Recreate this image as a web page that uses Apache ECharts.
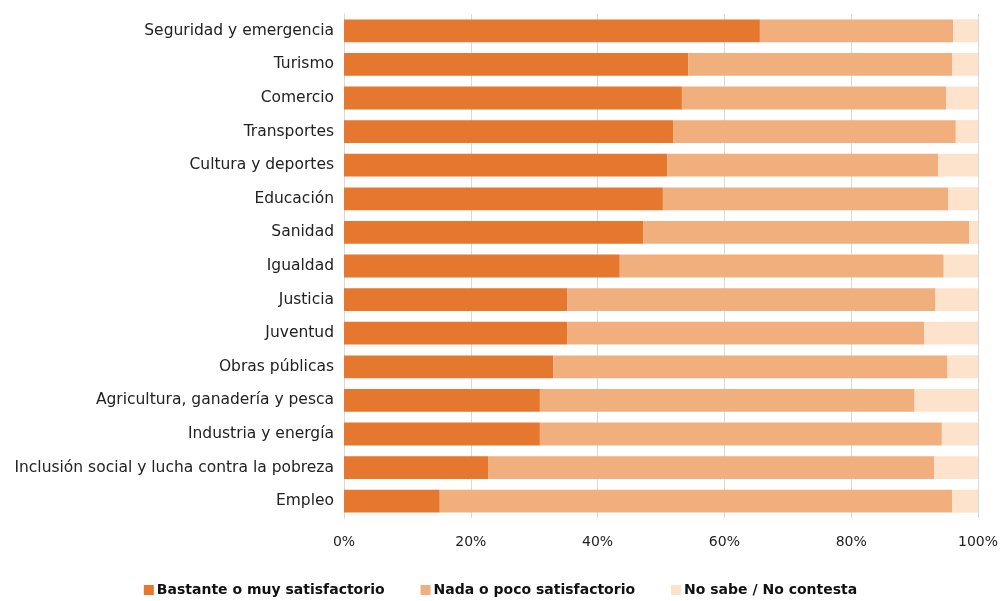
<!DOCTYPE html>
<html><head><meta charset="utf-8">
<script src="https://cdn.jsdelivr.net/npm/echarts@6/dist/echarts.min.js"></script>
<style>html,body{margin:0;padding:0;background:#fff}#c{width:1001px;height:601px}</style>
</head><body><div id="c"></div>
<script>
const categories = ["Seguridad y emergencia","Turismo","Comercio","Transportes","Cultura y deportes","Educación","Sanidad","Igualdad","Justicia","Juventud","Obras públicas","Agricultura, ganadería y pesca","Industria y energía","Inclusión social y lucha contra la pobreza","Empleo"];
const bastante = [65.6,54.3,53.3,51.9,51.0,50.3,47.2,43.5,35.2,35.2,33.0,30.9,30.9,22.8,15.1];
const nada = [30.5,41.6,41.7,44.6,42.7,45.0,51.4,51.1,58.1,56.3,62.2,59.1,63.4,70.3,80.8];
const nsnc = [3.9,4.1,5.0,3.5,6.3,4.7,1.4,5.4,6.7,8.5,4.8,10.0,5.7,6.9,4.1];
const seriesNames = ["Bastante o muy satisfactorio","Nada o poco satisfactorio","No sabe / No contesta"];
const xTicks = [0,20,40,60,80,100];

const font = "DejaVu Sans";
const colors = ["#E5772F","#F0AF7C","#FDE3CC"];
const chart = echarts.init(document.getElementById('c'));
const mk = (name, data, i) => ({
  name, type: 'bar', stack: 'a', data, barWidth: '68%',
  itemStyle: {color: colors[i]}, animation: false
});
chart.setOption({
  animation: false,
  textStyle: {fontFamily: font},
  grid: {left: 344, right: 22, top: 14, bottom: 83},
  legend: {
    bottom: -1, left: 'center', itemWidth: 10, itemHeight: 10, itemGap: 36,
    icon: 'rect',
    textStyle: {fontFamily: font, fontSize: 14, fontWeight: 'bold', color: '#111', padding: [0,0,0,-2]},
    data: seriesNames
  },
  xAxis: {
    type: 'value', min: xTicks[0], max: xTicks[xTicks.length-1], interval: 20,
    axisLine: {show: false}, axisTick: {show: false},
    splitLine: {lineStyle: {color: '#d9d9d9', width: 1}},
    axisLabel: {formatter: v => v + '%', fontFamily: font, fontSize: 14, color: '#222', margin: 17}
  },
  yAxis: {
    type: 'category', data: categories, inverse: true,
    axisLine: {lineStyle: {color: '#d9d9d9'}}, axisTick: {show: false},
    axisLabel: {fontFamily: font, fontSize: 15.5, color: '#222', margin: 10}
  },
  series: [mk(seriesNames[0], bastante, 0), mk(seriesNames[1], nada, 1), mk(seriesNames[2], nsnc, 2)]
});
</script></body></html>
